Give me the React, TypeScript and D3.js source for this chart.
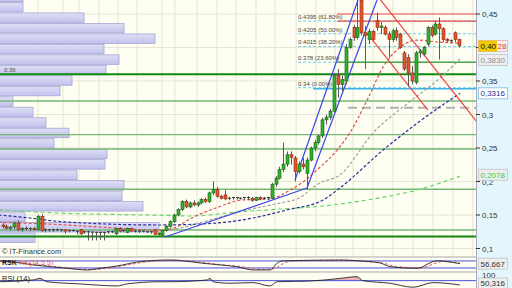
import React from "react";
import * as d3 from "d3";

// ---------- DATA ----------
const ohlc: [number, number, number, number][] = [
  [0.135,0.138,0.130,0.133],[0.133,0.136,0.128,0.130],[0.130,0.134,0.127,0.132],[0.132,0.140,0.128,0.138],
  [0.138,0.142,0.126,0.128],[0.128,0.132,0.125,0.130],[0.130,0.133,0.127,0.129],[0.129,0.131,0.126,0.130],
  [0.130,0.132,0.127,0.128],[0.128,0.150,0.127,0.148],[0.148,0.151,0.125,0.127],[0.127,0.130,0.124,0.128],
  [0.128,0.129,0.125,0.127],[0.127,0.130,0.125,0.128],[0.128,0.130,0.126,0.127],[0.127,0.129,0.125,0.128],
  [0.128,0.128,0.122,0.126],[0.126,0.128,0.124,0.127],[0.127,0.128,0.125,0.126],[0.126,0.127,0.121,0.125],
  [0.128,0.129,0.120,0.122],[0.124,0.126,0.122,0.125],[0.125,0.126,0.112,0.1245],[0.1245,0.125,0.112,0.124],
  [0.124,0.125,0.112,0.1235],[0.1235,0.125,0.113,0.124],[0.124,0.125,0.112,0.124],[0.124,0.126,0.122,0.125],
  [0.125,0.127,0.123,0.124],[0.122,0.131,0.120,0.130],[0.130,0.132,0.124,0.126],[0.126,0.128,0.124,0.127],
  [0.124,0.131,0.123,0.130],[0.130,0.131,0.125,0.126],[0.126,0.128,0.124,0.125],[0.125,0.127,0.123,0.126],
  [0.126,0.127,0.124,0.125],[0.125,0.126,0.123,0.124],[0.124,0.126,0.122,0.125],[0.128,0.129,0.120,0.121],
  [0.121,0.124,0.119,0.123],[0.120,0.128,0.1175,0.127],[0.127,0.135,0.125,0.133],[0.133,0.142,0.131,0.140],
  [0.140,0.152,0.138,0.150],[0.150,0.160,0.148,0.158],[0.158,0.172,0.156,0.170],[0.170,0.173,0.160,0.162],
  [0.162,0.170,0.160,0.168],[0.168,0.172,0.163,0.165],[0.165,0.170,0.162,0.168],[0.168,0.175,0.166,0.173],
  [0.173,0.176,0.168,0.170],[0.170,0.185,0.168,0.183],[0.183,0.200,0.180,0.188],[0.188,0.192,0.176,0.178],
  [0.178,0.180,0.173,0.175],[0.180,0.187,0.172,0.174],[0.174,0.177,0.172,0.175],[0.175,0.177,0.173,0.176],
  [0.176,0.177,0.173,0.175],[0.175,0.176,0.173,0.175],[0.175,0.177,0.173,0.176],[0.176,0.178,0.172,0.175],
  [0.175,0.177,0.170,0.172],[0.172,0.177,0.171,0.176],[0.176,0.178,0.172,0.174],[0.174,0.177,0.173,0.175],
  [0.175,0.177,0.172,0.176],[0.175,0.198,0.174,0.196],[0.196,0.208,0.192,0.205],[0.205,0.222,0.203,0.218],
  [0.218,0.258,0.214,0.226],[0.226,0.245,0.222,0.240],[0.240,0.245,0.225,0.236],[0.235,0.238,0.200,0.215],
  [0.215,0.230,0.212,0.226],[0.226,0.235,0.218,0.222],[0.212,0.236,0.188,0.232],[0.232,0.252,0.230,0.250],
  [0.250,0.262,0.245,0.258],[0.258,0.270,0.255,0.268],[0.268,0.295,0.265,0.292],[0.292,0.300,0.285,0.296],
  [0.296,0.308,0.292,0.305],[0.305,0.362,0.303,0.358],[0.358,0.368,0.325,0.345],[0.345,0.358,0.335,0.352],
  [0.350,0.405,0.345,0.400],[0.400,0.415,0.398,0.412],[0.430,0.434,0.410,0.415],[0.415,0.472,0.412,0.430],
  [0.470,0.478,0.418,0.422],[0.422,0.432,0.368,0.418],[0.412,0.428,0.405,0.424],[0.424,0.426,0.410,0.412],
  [0.440,0.452,0.425,0.430],[0.430,0.438,0.420,0.432],[0.430,0.433,0.418,0.420],[0.420,0.424,0.385,0.412],
  [0.412,0.428,0.408,0.425],[0.425,0.430,0.410,0.415],[0.420,0.422,0.398,0.400],[0.392,0.395,0.365,0.368],
  [0.385,0.390,0.342,0.362],[0.362,0.372,0.345,0.350],[0.348,0.395,0.345,0.392],[0.392,0.398,0.385,0.395],
  [0.390,0.402,0.388,0.400],[0.405,0.432,0.402,0.430],[0.430,0.433,0.415,0.418],[0.420,0.440,0.418,0.435],
  [0.435,0.445,0.382,0.428],[0.428,0.430,0.408,0.412],[0.412,0.414,0.408,0.410],[0.410,0.412,0.406,0.409],
  [0.422,0.424,0.408,0.412],[0.412,0.413,0.400,0.4028],
];

const priceTicks = [0.1, 0.15, 0.2, 0.25, 0.3, 0.35, 0.4, 0.45];
const hiddenTicks = [0.4]; // covered by the last-price box
const gridIdx = [9.1, 15.5, 19.6, 24.7, 29.6, 34.5, 40.9, 44.2, 49.9, 55, 59.9, 65, 69.9, 75.3, 80.4, 85.3, 89.9, 95, 100.1, 105.3, 110.4, 115.5, 120.6];

// volume-at-price profile (top bin first)
const profileTop = 0.4836;
const profileStep = 0.01564;
const profileVolumes = [23, 23, 84, 124, 155, 104, 119, 106, 72, 60, 13, 33, 46, 69, 54, 107, 105, 77, 124, 122, 143, 25, 159, 35];

const resistanceLevels = [0.45, 0.4395];
const resistanceStart = 85.8;
const fibLevels = [0.4395, 0.4205, 0.4015, 0.378, 0.34];
const fibLabels = ["0.4395 (61.80%)", "0.4205 (50.00%)", "0.4015 (38.20%)", "0.378 (23.60%)", "0.34 (0.00%)"];
const fibStart = 75.8;
const supportLevels = [0.3201, 0.2699, 0.2485, 0.1884, 0.1276];
const majorLevels = [0.36, 0.118];
const partialGreen = { value: 0.378, start: 85.8 };
const cyanLevel = { value: 0.3385, start: 79.6 };
const grayLevel = { value: 0.31, start: 88.6 };

const maRed: [number, number][] = [[-1,0.139],[12,0.1365],[25,0.132],[40,0.1275],[44,0.1305],[48,0.144],[54.5,0.160],[61.7,0.1725],[68.6,0.174],[73.7,0.187],[77,0.199],[80.6,0.217],[85.8,0.247],[89,0.272],[93.5,0.3215],[97.6,0.371],[102,0.4005],[106.3,0.411],[112,0.408],[117,0.4065]];
const maGray: [number, number][] = [[38,0.1261],[45.5,0.1306],[53.2,0.1425],[62.7,0.1575],[71.2,0.1679],[75.5,0.1739],[81.4,0.1978],[86.5,0.2097],[95,0.2724],[105,0.3216],[112.2,0.3545],[117.3,0.3828]];
const maBlue: [number, number][] = [[-1,0.15],[7,0.1455],[16,0.1396],[40.4,0.1351],[55,0.1381],[64.2,0.1455],[72.9,0.1575],[82.2,0.1724],[86.5,0.1903],[97.6,0.247],[114.7,0.3216],[117.3,0.3316]];
const maGreen: [number, number][] = [[-1,0.1575],[14,0.153],[43,0.1493],[48.1,0.1485],[60.1,0.1545],[86.5,0.1664],[95,0.1739],[106.3,0.1873],[117.3,0.2078]];

const trendBlue: [number, number][][] = [
  [[41.67,0.1172],[78.08,0.1903]],
  [[75,0.2022],[91.15,0.4709]],
  [[78.08,0.1903],[96.03,0.4709]],
];
const trendRed: [number, number][][] = [
  [[93,0.5],[121.67,0.2888]],
  [[93.46,0.4216],[109.1,0.3067]],
];

const stochK: [number, number][] = [[-1,80],[1.9,74],[7.8,46],[12.2,31],[16.5,17],[21.7,3],[25,17],[29.4,37],[35.3,74],[43,88],[48.1,74],[51.4,60],[55.8,46],[60.1,31],[64.2,3],[68.6,3],[70.4,60],[71.7,80],[80,86],[86.5,88],[91.7,80],[96.8,63],[99.4,31],[106.3,17],[110.4,74],[111.4,82],[114,74],[117.3,56.7]];
const stochD: [number, number][] = [[-1,82],[3,72],[9,48],[14,30],[18.5,15],[23,6],[27,18],[31,40],[37,72],[44.5,86],[50,72],[53.5,58],[57.5,44],[62,28],[66,8],[69.5,12],[72,58],[74,78],[82,85],[88,86],[93,76],[98,58],[101,32],[107.5,22],[111.5,66],[113,76],[115.5,70],[117.3,62]];
const rsi: [number, number][] = [[-1,65],[7.8,73],[9.6,80],[11.4,65],[20,55],[29.4,46],[31.9,55],[40.4,65],[43,65],[52.4,73],[53.2,80],[54,65],[58.3,58],[64.2,61],[68.6,46],[70.4,65],[78.8,68],[86.5,80],[90.9,88],[92.4,70],[99.4,58],[105.3,40],[110.4,61],[117.3,50.3]];

const lastPrice = 0.4028;
const lastGray = 0.383;
const lastBlue = 0.3316;
const lastGreen = 0.2078;
const lastStoch = 56.667;
const lastRsi = 50.316;

const FONT = "Liberation Sans, Arial, sans-serif";

export default function App() {
  const PR = 476;
  const x = d3.scaleLinear().domain([0, 117]).range([2.5, 458.8]);
  const y = d3.scaleLinear().domain([0.1, 0.45]).range([248.5, 14]);
  const vx = d3.scaleLinear().domain([0, 160]).range([0, 160]);
  const kY = d3.scaleLinear().domain([0, 100]).range([270.3, 258.6]);
  const rY = d3.scaleLinear().domain([0, 100]).range([296.1, 274]);

  const pl = d3.line<[number, number]>().x(d => x(d[0])).y(d => y(d[1])).curve(d3.curveMonotoneX);
  const straight = d3.line<[number, number]>().x(d => x(d[0])).y(d => y(d[1]));
  const kl = d3.line<[number, number]>().x(d => x(d[0])).y(d => kY(d[1])).curve(d3.curveMonotoneX);
  const rl = d3.line<[number, number]>().x(d => x(d[0])).y(d => rY(d[1])).curve(d3.curveMonotoneX);
  const ra = d3.area<[number, number]>().x(d => x(d[0])).y0(rY(70)).y1(d => rY(d[1])).curve(d3.curveMonotoneX);

  const fmtTick = (v: number) => String(+v.toFixed(4)).replace(".", ",");
  const fmt4 = (v: number) => v.toFixed(4).replace(".", ",");
  const fmt3 = (v: number) => v.toFixed(3).replace(".", ",");

  const box = (yy: number, text: string, fill: string, stroke: string, color: string) => (
    <g>
      <rect x={478.5} y={yy - 5.5} width={29} height={11} fill={fill} stroke={stroke} strokeWidth={0.8} />
      <text x={480.5} y={yy + 3} fontSize={8} fontFamily={FONT} fill={color}>{text}</text>
    </g>
  );

  const lp = fmt4(lastPrice);

  return (
    <svg width={512} height={288} style={{ position: "absolute", left: 0, top: 0, display: "block" }}>
      <defs>
        <clipPath id="main"><rect x={0} y={0} width={PR} height={256} /></clipPath>
        <clipPath id="p2"><rect x={0} y={258} width={PR} height={13} /></clipPath>
        <clipPath id="p3"><rect x={0} y={273} width={PR} height={15} /></clipPath>
        <clipPath id="above70"><rect x={0} y={273} width={PR} height={rY(70) - 273} /></clipPath>
        <linearGradient id="vp" x1="0" x2="0" y1="0" y2="1">
          <stop offset="0" stopColor="#dcdcf8" />
          <stop offset="1" stopColor="#bcbcec" />
        </linearGradient>
      </defs>

      {/* backgrounds */}
      <rect x={0} y={0} width={512} height={288} fill="#e3f6fc" />
      <rect x={0} y={0} width={PR} height={256} fill="#fefef2" />
      <rect x={0} y={258} width={PR} height={13} fill="#fefef2" />
      <rect x={0} y={273} width={PR} height={15} fill="#fefef2" />
      <rect x={0} y={256} width={PR} height={2} fill="#d4d4cc" />
      <rect x={0} y={271} width={PR} height={2} fill="#d4d4cc" />

      <g clipPath="url(#main)">
        {/* grid */}
        {gridIdx.map((g, i) => (
          <line key={"g" + i} x1={x(g)} x2={x(g)} y1={0} y2={256} stroke="#e6e6d4" strokeWidth={1} />
        ))}
        {priceTicks.map((t, i) => (
          <line key={"h" + i} x1={0} x2={PR} y1={y(t)} y2={y(t)} stroke="#e6e6d4" strokeWidth={1} />
        ))}

        {/* volume profile */}
        {profileVolumes.map((v, k) => {
          const top = y(profileTop - k * profileStep);
          const bot = y(profileTop - (k + 1) * profileStep);
          return (
            <rect key={"vp" + k} x={-1} y={top + 0.5} width={vx(v) + 1} height={bot - top - 1}
              fill="url(#vp)" stroke="#9d9dd4" strokeWidth={0.8} opacity={0.9} />
          );
        })}

        {/* horizontal levels */}
        {supportLevels.map((v, i) => (
          <line key={"s" + i} x1={0} x2={PR} y1={y(v)} y2={y(v)} stroke="#76b876" strokeWidth={1.4} />
        ))}
        {majorLevels.map((v, i) => (
          <line key={"m" + i} x1={0} x2={PR} y1={y(v)} y2={y(v)} stroke="#108a10" strokeWidth={2} />
        ))}
        <text x={4} y={y(0.36) - 2.5} fontSize={6} fontFamily={FONT} fill="#555">0.36</text>
        {fibLevels.map((v, i) => (
          <line key={"f" + i} x1={x(fibStart)} x2={PR} y1={y(v)} y2={y(v)} stroke="#6ccdf0" strokeWidth={1} strokeDasharray="3,2" />
        ))}
        <line x1={x(partialGreen.start)} x2={PR} y1={y(partialGreen.value)} y2={y(partialGreen.value)} stroke="#4aa84a" strokeWidth={1.4} />
        <line x1={x(cyanLevel.start)} x2={PR} y1={y(cyanLevel.value)} y2={y(cyanLevel.value)} stroke="#3ab4e8" strokeWidth={1.5} />
        <line x1={x(grayLevel.start)} x2={PR} y1={y(grayLevel.value)} y2={y(grayLevel.value)} stroke="#b0b0b0" strokeWidth={2} strokeDasharray="9,5" />
        {resistanceLevels.map((v, i) => (
          <line key={"r" + i} x1={x(resistanceStart)} x2={PR} y1={y(v)} y2={y(v)} stroke="#ee4a4a" strokeWidth={1.2} />
        ))}

        {/* moving averages */}
        <path d={pl(maGreen) || ""} fill="none" stroke="#66d866" strokeWidth={1.2} strokeDasharray="4,3" />
        <path d={pl(maBlue) || ""} fill="none" stroke="#2c2ca0" strokeWidth={1.2} strokeDasharray="3,2" />
        <path d={pl(maGray) || ""} fill="none" stroke="#a0a0a0" strokeWidth={1.2} strokeDasharray="3,2" />
        <path d={pl(maRed) || ""} fill="none" stroke="#dd5050" strokeWidth={1.2} strokeDasharray="3,2" />

        {/* trend lines */}
        {trendBlue.map((t, i) => (
          <path key={"tb" + i} d={straight(t) || ""} fill="none" stroke="#3a46ee" strokeWidth={1.2} />
        ))}
        {trendRed.map((t, i) => (
          <path key={"tr" + i} d={straight(t) || ""} fill="none" stroke="#f04444" strokeWidth={1.2} />
        ))}

        {/* candles */}
        {ohlc.map(([o, h, l, c], i) => {
          const cx = Math.round(x(i)) + 0.5;
          const up = c >= o;
          const top = y(Math.max(o, c));
          const bot = y(Math.min(o, c));
          const doji = bot - top < 1;
          return (
            <g key={"c" + i}>
              <line x1={cx} x2={cx} y1={y(h)} y2={y(l)} stroke="#5a5a5a" strokeWidth={1} />
              {doji ? (
                <line x1={cx - 1.5} x2={cx + 1.5} y1={top} y2={top} stroke="#333" strokeWidth={1} />
              ) : (
                <rect x={cx - 1.5} y={top} width={3} height={bot - top}
                  fill={up ? "#2fb32f" : "#e5562f"} stroke={up ? "#1a5e1a" : "#8a2a12"} strokeWidth={0.6} />
              )}
            </g>
          );
        })}

        {/* fib labels */}
        {fibLevels.map((v, i) => (
          <text key={"fl" + i} x={x(fibStart)} y={y(v) - 2} fontSize={6} fontFamily={FONT} fill="#444">{fibLabels[i]}</text>
        ))}

        <text x={2} y={254} fontSize={7.5} fontFamily={FONT} fill="#333">© IT-Finance.com</text>
      </g>

      {/* panel 2: stochastic */}
      <g clipPath="url(#p2)">
        <line x1={0} x2={PR} y1={kY(80)} y2={kY(80)} stroke="#4a52dd" strokeWidth={1} />
        <line x1={0} x2={PR} y1={kY(20)} y2={kY(20)} stroke="#4a52dd" strokeWidth={1} />
        <path d={kl(stochD) || ""} fill="none" stroke="#e06060" strokeWidth={1} strokeDasharray="3,2" />
        <path d={kl(stochK) || ""} fill="none" stroke="#222" strokeWidth={0.9} />
        <text x={2} y={265} fontSize={7} fontFamily={FONT} fill="#222" fontWeight="bold">RSK</text>
        <text x={18} y={265} fontSize={7} fontFamily={FONT} fill="#e06060">%K(14 5 5)</text>
      </g>

      {/* panel 3: RSI */}
      <g clipPath="url(#p3)">
        <path d={ra(rsi) || ""} fill="#e8b2b2" clipPath="url(#above70)" />
        <line x1={0} x2={PR} y1={rY(70)} y2={rY(70)} stroke="#4a52dd" strokeWidth={1} />
        <path d={rl(rsi) || ""} fill="none" stroke="#222" strokeWidth={0.9} />
        <text x={2} y={281} fontSize={7.5} fontFamily={FONT} fill="#222">RSI (14)</text>
      </g>

      {/* right axis */}
      <line x1={PR + 0.5} x2={PR + 0.5} y1={0} y2={288} stroke="#aab" strokeWidth={1} />
      {priceTicks.map((t, i) => (
        <g key={"t" + i}>
          <line x1={PR} x2={PR + 4} y1={y(t)} y2={y(t)} stroke="#333" strokeWidth={1} />
          {hiddenTicks.indexOf(t) < 0 && (
            <text x={482} y={y(t) + 3} fontSize={8} fontFamily={FONT} fill="#333">{fmtTick(t)}</text>
          )}
        </g>
      ))}
      <text x={482} y={278} fontSize={8} fontFamily={FONT} fill="#333">100</text>

      {box(y(lastGreen) - 1.5, fmt4(lastGreen), "#eeeeee", "#c4c4c4", "#3ccc3c")}
      {box(y(lastBlue), fmt4(lastBlue), "#ffffff", "#7ab8e0", "#2a2a90")}
      {box(y(lastGray) + 1, fmt4(lastGray), "#eeeeee", "#c4c4c4", "#909090")}
      <g>
        <rect x={478.5} y={y(lastPrice) - 5} width={29} height={11} fill="#fbeeee" stroke="#e6aaaa" strokeWidth={0.8} />
        <rect x={478.5} y={y(lastPrice) - 5} width={18.5} height={11} fill="#f2c800" />
        <text x={480.5} y={y(lastPrice) + 3.5} fontSize={8} fontFamily={FONT} fill="#111">{lp.slice(0, 4)}</text>
        <text x={497.5} y={y(lastPrice) + 3.5} fontSize={8} fontFamily={FONT} fill="#d23a3a">{lp.slice(4)}</text>
      </g>
      {box(kY(lastStoch), fmt3(lastStoch), "#eeeeee", "#c4c4c4", "#333")}
      {box(rY(lastRsi) - 1.5, fmt3(lastRsi), "#eeeeee", "#c4c4c4", "#333")}
    </svg>
  );
}
